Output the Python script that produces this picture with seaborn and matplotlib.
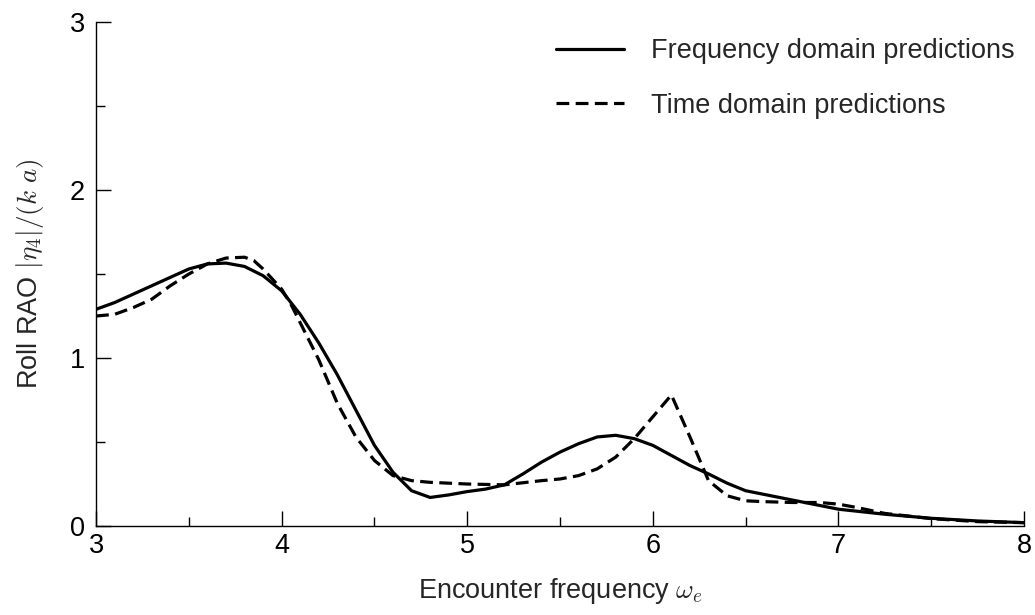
import matplotlib
matplotlib.use("Agg")
import matplotlib.pyplot as plt
import seaborn as sns
import pandas as pd
from matplotlib.ticker import MultipleLocator

# Frequency domain predictions (solid)
freq_x = [3.0, 3.1, 3.2, 3.3, 3.4, 3.5, 3.6, 3.7, 3.8, 3.9, 4.0, 4.1, 4.2, 4.3, 4.4,
          4.5, 4.6, 4.7, 4.8, 4.9, 5.0, 5.1, 5.2, 5.3, 5.4, 5.5, 5.6, 5.7, 5.8, 5.9,
          6.0, 6.1, 6.2, 6.3, 6.4, 6.5, 6.75, 7.0, 7.25, 7.5, 7.75, 8.0]
freq_y = [1.29, 1.33, 1.38, 1.43, 1.48, 1.53, 1.56, 1.565, 1.545, 1.49, 1.40, 1.26, 1.09, 0.90, 0.69,
          0.48, 0.32, 0.21, 0.17, 0.185, 0.205, 0.22, 0.245, 0.31, 0.38, 0.44, 0.49, 0.53, 0.54, 0.52,
          0.48, 0.42, 0.36, 0.31, 0.255, 0.21, 0.155, 0.10, 0.07, 0.046, 0.03, 0.02]

# Time domain predictions (dashed)
time_x = [3.0, 3.1, 3.2, 3.3, 3.4, 3.5, 3.6, 3.7, 3.8, 3.85, 3.9, 4.0, 4.05, 4.1, 4.2,
          4.3, 4.4, 4.5, 4.6, 4.7, 4.8, 5.0, 5.2, 5.4, 5.5, 5.6, 5.7, 5.8, 5.9, 6.0,
          6.1, 6.2, 6.3, 6.4, 6.5, 6.6, 6.75, 6.9, 7.0, 7.1, 7.25, 7.5, 7.75, 8.0]
time_y = [1.25, 1.26, 1.30, 1.35, 1.43, 1.50, 1.56, 1.595, 1.60, 1.58, 1.53, 1.41, 1.32, 1.21, 0.99,
          0.73, 0.53, 0.39, 0.30, 0.27, 0.26, 0.25, 0.245, 0.27, 0.28, 0.30, 0.34, 0.41, 0.52, 0.65,
          0.78, 0.53, 0.27, 0.18, 0.15, 0.145, 0.14, 0.14, 0.13, 0.11, 0.075, 0.044, 0.026, 0.02]

labels = ["Frequency domain predictions", "Time domain predictions"]

sns.set_style("ticks")
plt.rcParams["font.family"] = ["Liberation Sans", "DejaVu Sans"]
plt.rcParams["mathtext.fontset"] = "cm"

FS = 19.5

fig = plt.figure(figsize=(10.35, 6.15), dpi=100)
ax = fig.add_axes([0.0928, 0.1447, 0.8966, 0.8195])

df_f = pd.DataFrame({"x": freq_x, "y": freq_y})
df_t = pd.DataFrame({"x": time_x, "y": time_y})
sns.lineplot(data=df_f, x="x", y="y", ax=ax, color="black", linewidth=2.3,
             label=labels[0])
sns.lineplot(data=df_t, x="x", y="y", ax=ax, color="black", linewidth=2.3,
             label=labels[1], linestyle=(0, (4, 2)))

ax.set_xlim(3, 8)
ax.set_ylim(0, 3)
ax.xaxis.set_major_locator(MultipleLocator(1))
ax.xaxis.set_minor_locator(MultipleLocator(0.5))
ax.yaxis.set_major_locator(MultipleLocator(1))
ax.yaxis.set_minor_locator(MultipleLocator(0.5))
ax.tick_params(which="major", direction="in", length=11, width=1.0, labelsize=FS,
               color="black", labelcolor="black")
ax.tick_params(which="minor", direction="in", length=6.5, width=1.0, color="black")
ax.tick_params(axis="x", which="major", pad=5)
ax.tick_params(axis="y", which="major", pad=8)
for s in ["top", "right"]:
    ax.spines[s].set_visible(False)
for s in ["left", "bottom"]:
    ax.spines[s].set_linewidth(1.0)
    ax.spines[s].set_color("black")

ax.set_xlabel(r"Encounter frequency $\omega_e$", fontsize=FS, labelpad=12)
ax.set_ylabel(r"Roll RAO $|\eta_4|/(k\ a)$", fontsize=FS, labelpad=17)

leg = ax.legend(loc="upper right", frameon=False, fontsize=FS, handlelength=2.5,
                handletextpad=1.0, labelspacing=1.05, borderaxespad=0.0,
                borderpad=0.6, bbox_to_anchor=(1.0075, 1.0))

fig.savefig("out.png", dpi=100)
